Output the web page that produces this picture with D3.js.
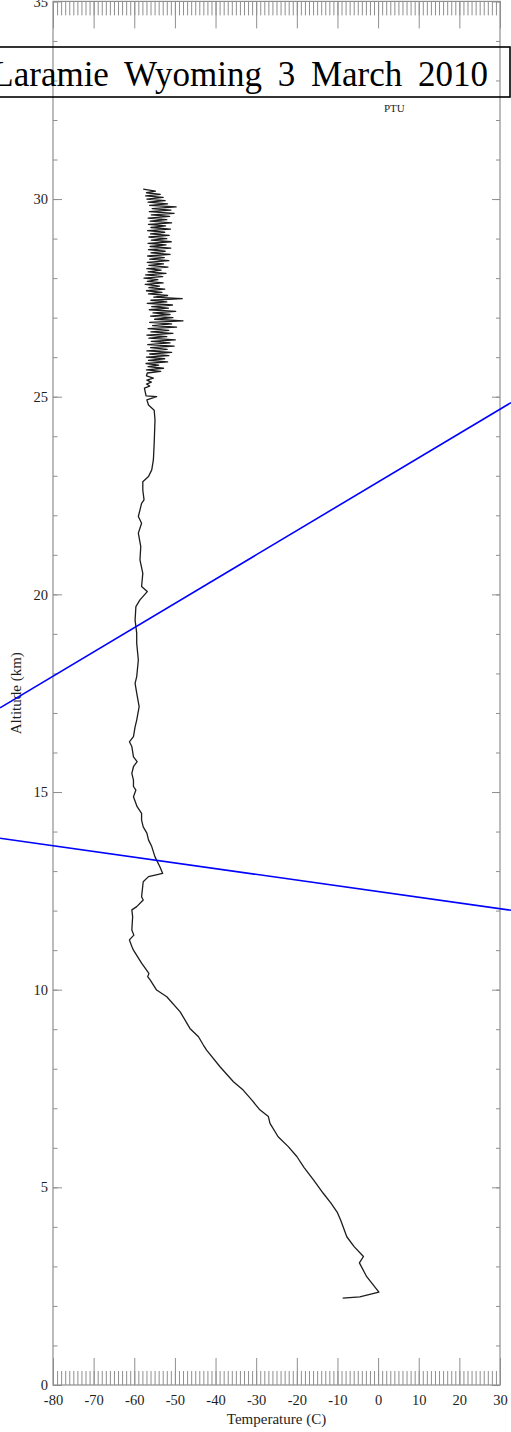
<!DOCTYPE html>
<html>
<head>
<meta charset="utf-8">
<script src="https://cdn.jsdelivr.net/npm/d3@7/dist/d3.min.js"></script>
<style>
  html, body { margin: 0; padding: 0; background: #fff; }
  svg { display: block; font-family: "Liberation Serif", "Times New Roman", serif; }
</style>
</head>
<body>
<svg id="chart" width="511" height="1432"></svg>
<script>
// Balloon sounding: temperature profile, [altitude km, temperature C], bottom to top
const troposphere = [
  [2.20,-8.7],[2.23,-4.5],[2.35,0.2],[2.74,-2.8],[3.09,-4.6],[3.25,-3.6],[3.50,-5.9],
  [3.75,-7.7],[4.17,-9.2],[4.36,-10.0],[4.60,-11.6],[4.85,-13.5],[5.19,-15.9],[5.50,-18.2],
  [5.78,-20.0],[6.03,-22.1],[6.28,-24.6],[6.62,-26.6],[6.79,-27.0],[6.96,-29.1],[7.20,-31.0],
  [7.46,-33.2],[7.67,-35.6],[8.05,-38.9],[8.47,-42.2],[8.60,-43.0],[8.81,-44.2],[9.02,-46.3],
  [9.44,-48.7],[9.82,-52.0],[9.99,-54.5],[10.25,-56.1],[10.33,-56.7],[10.41,-56.4],[10.67,-58.2],
  [11.00,-60.2],[11.09,-60.6],[11.26,-61.2],[11.38,-60.1],[11.51,-60.6],[11.85,-60.4],
  [12.02,-60.6],[12.10,-59.4],[12.27,-57.8],[12.35,-58.2],[12.73,-57.8],[12.86,-56.5],[12.94,-53.0]
];
const lowerStratosphere = [
  [13.11,-53.7],[13.36,-54.9],[13.62,-55.7],[13.79,-56.5],[13.96,-56.9],[14.12,-57.8],
  [14.29,-58.2],[14.46,-58.2],[14.63,-59.3],[14.88,-60.2],[15.05,-59.6],[15.14,-60.2],
  [15.30,-60.2],[15.47,-60.6],[15.64,-60.2],[15.77,-59.3],[15.89,-60.2],[16.15,-60.6],
  [16.27,-61.2],[16.40,-60.2],[16.65,-59.8],[16.82,-59.4],[17.16,-58.8],[17.50,-59.4],
  [17.75,-59.8],[17.92,-59.4],[18.34,-59.0],[18.76,-59.4],[19.02,-59.4],[19.35,-59.8],
  [19.69,-59.6],[19.86,-58.6],[20.07,-56.8],[20.20,-58.2],[20.53,-57.9],[20.87,-58.6],
  [21.21,-58.4],[21.55,-59.0],[21.80,-58.2],[21.97,-59.0],[22.30,-58.2],[22.39,-57.6],
  [22.64,-57.9],[22.85,-57.9],[22.98,-56.5],[23.15,-55.7],[23.40,-55.3],[23.82,-55.1],
  [24.41,-54.9],[24.66,-55.1],[24.79,-56.5],[24.92,-56.9],[25.00,-54.5],[25.02,-57.1],
  [25.22,-57.5],[25.27,-56.2],[25.32,-57.0],[25.37,-55.8],[25.42,-56.9],[25.47,-55.3],[25.53,-57.0]
];
const upperStratosphere = [
  [25.60,-56.8],[25.64,-53.5],[25.68,-57.0],[25.72,-52.8],[25.76,-56.6],[25.80,-54.0],
  [25.84,-57.1],[25.88,-51.8],[25.92,-56.5],[25.96,-52.5],[26.00,-57.0],[26.04,-51.5],
  [26.08,-56.2],[26.12,-50.8],[26.16,-56.9],[26.20,-51.9],[26.24,-56.0],[26.28,-50.2],
  [26.32,-56.7],[26.36,-51.2],[26.40,-55.8],[26.44,-49.9],[26.48,-56.4],[26.52,-52.0],
  [26.56,-56.9],[26.60,-50.5],[26.64,-55.9],[26.68,-51.5],[26.72,-56.6],[26.76,-49.6],
  [26.80,-55.5],[26.84,-50.8],[26.88,-56.2],[26.92,-48.0],[26.96,-55.0],[27.00,-50.5],
  [27.04,-56.0],[27.08,-51.2],[27.12,-55.4],[27.16,-49.8],[27.20,-56.3],[27.24,-51.6],
  [27.28,-55.7],[27.32,-50.6],[27.36,-56.8],[27.40,-52.0],[27.44,-55.9],[27.48,-48.2],
  [27.52,-55.2],[27.56,-51.8],[27.60,-56.5],[27.64,-53.2],[27.68,-57.0],[27.72,-52.5],
  [27.76,-56.4],[27.80,-53.8],[27.84,-57.3],[27.88,-52.9],[27.92,-56.8],[27.96,-54.2],
  [28.00,-57.6],[28.04,-53.0],[28.08,-57.2],[28.12,-52.2],[28.16,-56.6],[28.20,-53.4],
  [28.24,-56.9],[28.28,-51.7],[28.32,-56.4],[28.36,-52.8],[28.40,-56.8],[28.44,-51.5],
  [28.48,-56.2],[28.52,-52.6],[28.56,-56.7],[28.60,-51.2],[28.64,-55.9],[28.68,-52.4],
  [28.72,-56.5],[28.76,-51.0],[28.80,-56.1],[28.84,-52.2],[28.88,-56.6],[28.92,-50.9],
  [28.96,-55.8],[29.00,-52.0],[29.04,-56.4],[29.08,-51.4],[29.12,-56.0],[29.16,-52.5],
  [29.20,-56.7],[29.24,-51.1],[29.28,-55.9],[29.32,-52.3],[29.36,-56.5],[29.40,-50.8],
  [29.44,-56.1],[29.48,-52.0],[29.52,-56.6],[29.56,-51.3],[29.60,-55.8],[29.64,-50.2],
  [29.68,-56.3],[29.72,-51.0],[29.76,-55.6],[29.80,-49.7],[29.84,-56.2],[29.88,-51.8],
  [29.92,-56.6],[29.96,-52.4],[30.00,-56.9],[30.04,-52.9],[30.08,-57.2],[30.12,-53.6],
  [30.16,-57.0],[30.20,-54.8],[30.25,-57.8]
];

// Two straight reference lines, endpoints as [temperature C, altitude km]
const upperLine = [[-93.04,17.13],[32.71,24.85]];
const lowerLine = [[-93.04,13.83],[32.71,12.01]];

// Axis settings
const tempDomain = [-80, 30];
const altDomain = [0, 35];
const tempTicks = [-80,-70,-60,-50,-40,-30,-20,-10,0,10,20,30];
const altTicks = [0,5,10,15,20,25,30,35];
const titleText = "Laramie Wyoming 3 March 2010";
const instrumentLabel = "PTU";
const xTitle = "Temperature (C)";
const yTitle = "Altitude (km)";

const svg = d3.select("#chart");
const plotLeft = 53, plotRight = 500, plotTop = 1.4, plotBottom = 1385;

const x = d3.scaleLinear().domain(tempDomain).range([plotLeft, plotRight]);
const y = d3.scaleLinear().domain(altDomain).range([plotBottom, plotTop]);

const axisColor = "#8f8f8f";
const labelColor = "#1e1e1e";

function style(g) {
  g.select(".domain").remove();
  g.selectAll(".tick line").attr("stroke", axisColor).attr("stroke-width", 1);
  g.selectAll(".tick text").attr("fill", labelColor)
    .style("font-family", '"Liberation Serif","Times New Roman",serif')
    .style("font-size", "14.5px");
}

const minorT = d3.range(tempDomain[0], tempDomain[1] + 1, 1);
const minorA = d3.range(altDomain[0], altDomain[1] + 1, 1);

// bottom axis
svg.append("g").attr("transform", `translate(0,${plotBottom})`)
  .call(d3.axisBottom(x).tickValues(minorT).tickSize(-14).tickFormat(""))
  .call(style);
svg.append("g").attr("transform", `translate(0,${plotBottom})`)
  .call(d3.axisBottom(x).tickValues(tempTicks).tickSize(-27).tickPadding(10).tickFormat(d => String(d)))
  .call(style);

// top axis
svg.append("g").attr("transform", `translate(0,${plotTop})`)
  .call(d3.axisTop(x).tickValues(minorT).tickSize(-14).tickFormat(""))
  .call(style);
svg.append("g").attr("transform", `translate(0,${plotTop})`)
  .call(d3.axisTop(x).tickValues(tempTicks).tickSize(-27).tickFormat(""))
  .call(style);

// left axis
svg.append("g").attr("transform", `translate(${plotLeft},0)`)
  .call(d3.axisLeft(y).tickValues(minorA).tickSize(-4.5).tickFormat(""))
  .call(style);
svg.append("g").attr("transform", `translate(${plotLeft},0)`)
  .call(d3.axisLeft(y).tickValues(altTicks).tickSize(-9).tickPadding(5).tickFormat(d => String(d)))
  .call(style);

// right axis
svg.append("g").attr("transform", `translate(${plotRight},0)`)
  .call(d3.axisRight(y).tickValues(minorA).tickSize(-4).tickFormat(""))
  .call(style);
svg.append("g").attr("transform", `translate(${plotRight},0)`)
  .call(d3.axisRight(y).tickValues(altTicks).tickSize(-8).tickFormat(""))
  .call(style);

// frame
svg.append("rect")
  .attr("x", x(tempDomain[0])).attr("y", y(altDomain[1]))
  .attr("width", x(tempDomain[1]) - x(tempDomain[0]))
  .attr("height", y(altDomain[0]) - y(altDomain[1]))
  .attr("fill", "none").attr("stroke", axisColor).attr("stroke-width", 1.2);

// axis titles
svg.append("text").attr("x", (plotLeft + plotRight) / 2).attr("y", 1424)
  .attr("text-anchor", "middle").attr("fill", labelColor)
  .style("font-size", "15px").text(xTitle);
svg.append("text").attr("transform", `translate(21,${(plotTop + plotBottom) / 2}) rotate(-90)`)
  .attr("text-anchor", "middle").attr("fill", labelColor)
  .style("font-size", "15px").text(yTitle);

// temperature profile
const profile = troposphere.concat(lowerStratosphere, upperStratosphere);
const line = d3.line().x(d => x(d[1])).y(d => y(d[0]));
svg.append("path").datum(profile)
  .attr("d", line)
  .attr("fill", "none").attr("stroke", "#1c1c1c").attr("stroke-width", 1.3)
  .attr("stroke-linejoin", "round");

// instrument label
svg.append("text").attr("x", x(4)).attr("y", y(32.2))
  .attr("text-anchor", "middle").attr("fill", labelColor)
  .style("font-size", "11px").text(instrumentLabel);

// reference lines
const straight = d3.line().x(d => x(d[0])).y(d => y(d[1]));
[upperLine, lowerLine].forEach(seg => {
  svg.append("path").datum(seg).attr("d", straight)
    .attr("fill", "none").attr("stroke", "#0000ff").attr("stroke-width", 1.6);
});

// title box
svg.append("rect").attr("x", -10).attr("y", 47).attr("width", 520).attr("height", 50)
  .attr("fill", "none").attr("stroke", "#000").attr("stroke-width", 1.6);
svg.append("text").attr("x", 488).attr("y", 86)
  .attr("text-anchor", "end").attr("fill", "#000")
  .style("font-size", "35px").style("word-spacing", "7px").text(titleText);
</script>
</body>
</html>
